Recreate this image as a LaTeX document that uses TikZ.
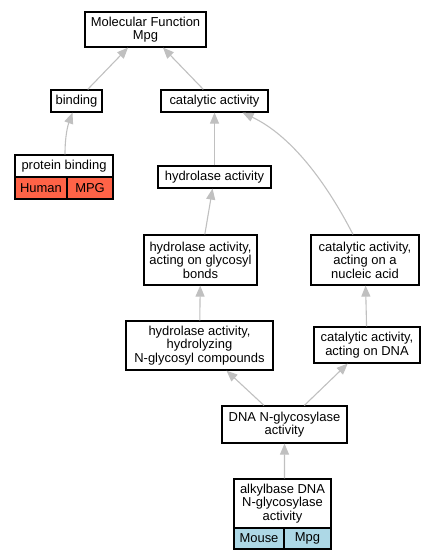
\documentclass[tikz,border=0pt]{standalone}
\usepackage{fontspec}
\setmainfont{Liberation Sans}
\usetikzlibrary{arrows.meta}

\definecolor{humancol}{HTML}{FF6347}
\definecolor{mousecol}{HTML}{ADD8E6}
\definecolor{edgecol}{HTML}{C0C0C0}

\tikzset{
  term/.style={draw, fill=white, line width=1.2bp, align=center, inner sep=0pt,
    font=\fontsize{13}{13.5}\selectfont},
  isa/.style={draw=edgecol, line width=1.1bp, -{Triangle[length=11bp,width=9bp]}}
}

\begin{document}
\begin{tikzpicture}[x=1bp,y=-1bp]
    \useasboundingbox (0,0) rectangle (437,560);

    % draw nodes
    \node[term, minimum width=121bp, minimum height=35bp] (mf) at (145.5,29.5) {Molecular Function\\Mpg};
    \node[term, minimum width=51bp, minimum height=22bp] (binding) at (76.5,101) {binding};
    \node[term, minimum width=107bp, minimum height=22bp] (cat) at (214.5,101) {catalytic activity};
    \node[term, minimum width=98bp, minimum height=22bp] (pb) at (64,166) {protein binding};
    \node[term, fill=humancol, minimum width=52bp, minimum height=22bp] (pbhuman) at (41,188) {Human};
    \node[term, fill=humancol, minimum width=46bp, minimum height=22bp] (pbgene) at (90,188) {MPG};
    \node[term, minimum width=113bp, minimum height=22bp] (hyd) at (214.5,177) {hydrolase activity};
    \node[term, minimum width=113bp, minimum height=50bp] (hydgly) at (200.5,260) {hydrolase activity,\\acting on glycosyl\\bonds};
    \node[term, minimum width=108bp, minimum height=50bp] (catnuc) at (365,260) {catalytic activity,\\acting on a\\nucleic acid};
    \node[term, minimum width=147bp, minimum height=49bp] (hydngly) at (199.5,345.5) {hydrolase activity,\\hydrolyzing\\N-glycosyl compounds};
    \node[term, minimum width=106bp, minimum height=36bp] (catdna) at (367,345) {catalytic activity,\\acting on DNA};
    \node[term, minimum width=125bp, minimum height=37bp] (dnagly) at (284.5,424.5) {DNA N-glycosylase\\activity};
    \node[term, minimum width=97bp, minimum height=49bp] (alkyl) at (282.5,503.5) {alkylbase DNA\\N-glycosylase\\activity};
    \node[term, fill=mousecol, minimum width=50bp, minimum height=21bp] (alkylmouse) at (259,538.5) {Mouse};
    \node[term, fill=mousecol, minimum width=47bp, minimum height=21bp] (alkylgene) at (307.5,538.5) {Mpg};

    % draw edges
    \draw[isa] (binding) -- (mf);
    \draw[isa] (cat) -- (mf);
    \draw[isa] ([xshift=1bp]pb.north) .. controls (65,135) and (68,125) .. ([xshift=-4bp]binding.south);
    \draw[isa] (hyd) -- (cat);
    \draw[isa] (hydgly) -- (hyd);
    \draw[isa] ([xshift=-12bp]catnuc.north) .. controls (325,180) and (290,135) .. ([xshift=28bp]cat.south);
    \draw[isa] (hydngly) -- (hydgly);
    \draw[isa] (catdna) -- (catnuc);
    \draw[isa] (dnagly) -- (hydngly);
    \draw[isa] (dnagly) -- (catdna);
    \draw[isa] ([xshift=2bp]alkyl.north) -- (dnagly.south);

  \end{tikzpicture}
\end{document}
